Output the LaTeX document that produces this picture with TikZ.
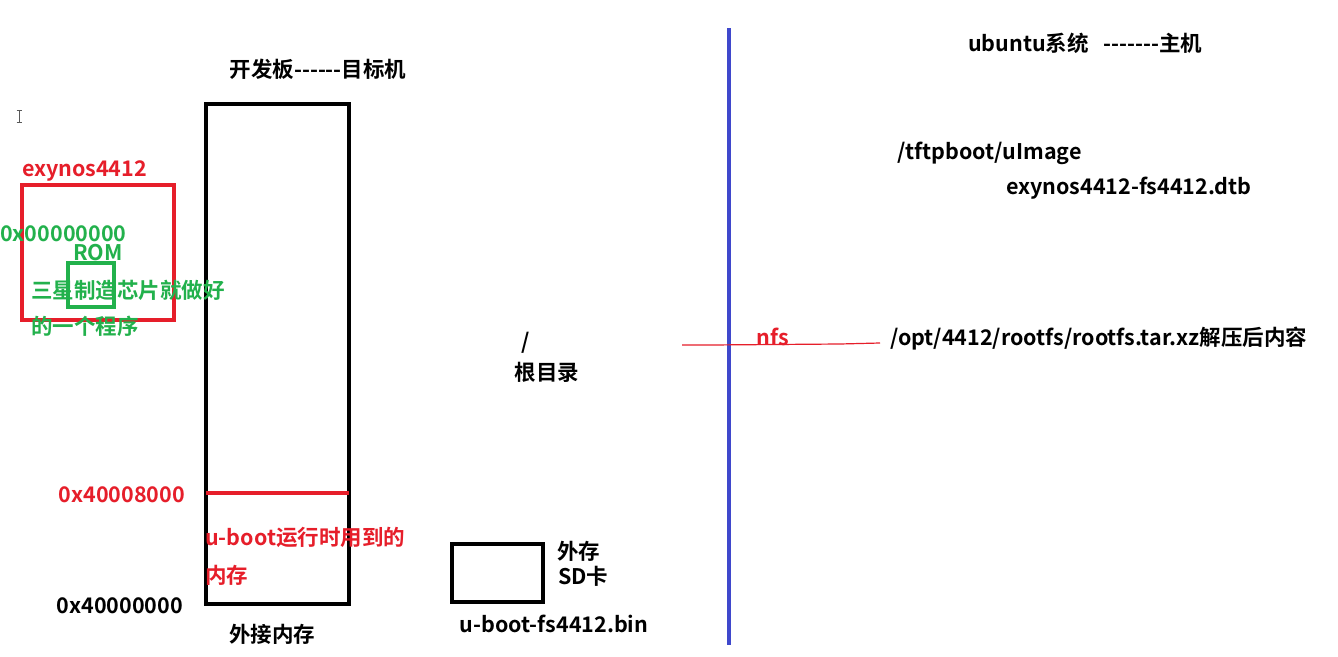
\documentclass[tikz,border=0pt]{standalone}
\usepackage{fontspec}
\setmainfont{Noto Sans CJK SC}[BoldFont={Noto Sans CJK SC Bold}]
\newcommand\dsh{-\kern0pt}
\definecolor{myred}{HTML}{E61E2A}
\definecolor{mygreen}{HTML}{22B14C}
\definecolor{myblue}{HTML}{3F48CC}
\tikzset{
  lbl/.style={inner sep=0pt, font=\fontsize{21.5}{24}\selectfont\bfseries},
  blk/.style={lbl, text=black},
  rd/.style={lbl, text=myred},
  gr/.style={lbl, text=mygreen},
  boxk/.style={draw=black, line width=4pt},
  boxr/.style={draw=myred, line width=4pt},
  boxg/.style={draw=mygreen, line width=4pt},
}
\begin{document}
\begin{tikzpicture}[x=1pt,y=-1pt]
\useasboundingbox[fill=white] (0,0) rectangle (1338,656);
% I-beam cursor
\draw[gray!70!black, line width=0.8pt] (19,110) -- (19,122) (16.5,110) -- (21.5,110) (16.5,122) -- (21.5,122);
% target board
\node[blk] (title) at (318,69) {开发板\dsh\dsh\dsh\dsh\dsh\dsh 目标机};
\node[boxk, minimum width=143pt, minimum height=500pt, inner sep=0pt] (mem) at (277.5,354) {};
\coordinate (m1) at (206,493);
\coordinate (m2) at (349,493);
\draw[myred, line width=4pt] (m1) -- (m2);
\node[rd, anchor=east] (a1) at (185,495) {0x40008000};
\node[rd, anchor=west] (ub1) at (205,537) {u\dsh boot运行时用到的};
\node[rd, anchor=west] (ub2) at (205,575) {内存};
\node[blk, anchor=east] (a0) at (183,606) {0x40000000};
\node[blk] (ext) at (272,634) {外接内存};
% exynos chip
\node[boxr, minimum width=152pt, minimum height=135pt, inner sep=0pt] (chip) at (98,252.5) {};
\node[rd, anchor=west] (chipname) at (22,171) {exynos4412};
\node[gr, anchor=west] (a00) at (0,234) {0x00000000};
\node[gr] (romlbl) at (98,253) {ROM};
\node[boxg, minimum width=46pt, minimum height=44pt, inner sep=0pt] (rom) at (91,285) {};
\node[gr, anchor=west] (g1) at (31,290) {三星制造芯片就做好};
\node[gr, anchor=west] (g2) at (31,326) {的一个程序};
% root
\node[blk] (slash) at (526,343) {/};
\node[blk] (root) at (547,372) {根目录};
% SD card
\node[boxk, minimum width=91pt, minimum height=58pt, inner sep=0pt] (sd) at (497.5,573) {};
\node[blk, anchor=west] (sd1) at (557,551) {外存};
\node[blk, anchor=west] (sd2) at (558,576) {SD卡};
\node[blk] (ubin) at (554,624) {u\dsh boot\dsh fs4412.bin};
% divider
\coordinate (d1) at (729,28);
\coordinate (d2) at (729,645);
\draw[myblue, line width=4pt] (d1) -- (d2);
% nfs line
\coordinate (n1) at (682,345);
\coordinate (n2) at (710,345);
\coordinate (n3) at (840,344);
\coordinate (n4) at (880,343);
\draw[myred, line width=1.2pt] (n1) -- (n2) -- (n3) -- (n4);
\node[rd] (nfs) at (773,337) {nfs};
% host
\node[blk, anchor=west] (host) at (968,43) {ubuntu系统 \ \ \dsh\dsh\dsh\dsh\dsh\dsh\dsh 主机};
\node[blk, anchor=west] (tftp) at (897,153) {/tftpboot/uImage};
\node[blk, anchor=west] (dtb) at (1006,188) {exynos4412\dsh fs4412.dtb};
\node[blk, anchor=west] (rootfs) at (890,339) {/opt/4412/rootfs/rootfs.tar.xz解压后内容};
\end{tikzpicture}
\end{document}
